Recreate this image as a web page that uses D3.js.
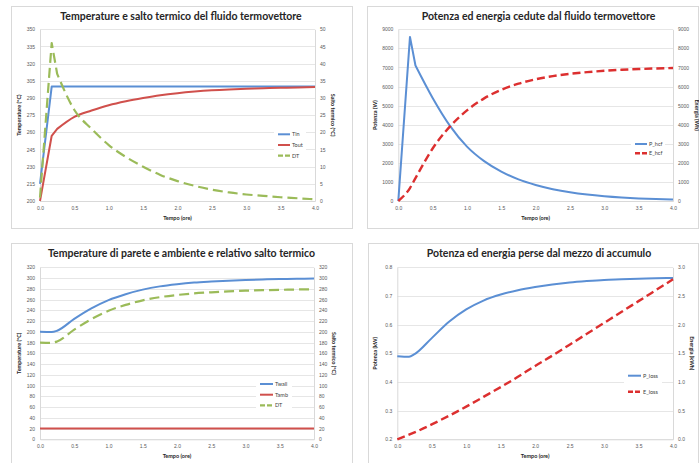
<!DOCTYPE html>
<html>
<head>
<meta charset="utf-8">
<script src="https://cdn.jsdelivr.net/npm/d3@7"></script>
<style>
  body { margin: 0; background: #fff; }
  svg { display: block; font-family: Lato, "Open Sans", sans-serif; }
  .grid line { stroke: #e0e0e0; stroke-width: 0.8; }
  .tick text { fill: #595959; font-size: 5px; }
</style>
</head>
<body>
<svg id="chart" width="699" height="463"></svg>
<script>
// tempo (ore) comune a tutti i grafici
const tempo = [0, 0.17, 0.25, 0.5, 0.75, 1.0, 1.25, 1.5, 1.75, 2.0, 2.25, 2.5, 2.75, 3.0, 3.25, 3.5, 3.75, 4.0];
const tempoTicks = [0, 0.5, 1, 1.5, 2, 2.5, 3, 3.5, 4];

// grafico 1 - fluido termovettore
const Tin  = [215, 300, 300, 300, 300, 300, 300, 300, 300, 300, 300, 300, 300, 300, 300, 300, 300, 300];
const Tout = [200, 257, 263, 273.5, 279, 283.7, 287.2, 290, 292.4, 294.2, 295.6, 296.7, 297.5, 298.1, 298.5, 298.9, 299.2, 299.5];
const DT1  = [1, 46, 37, 26.5, 21, 16.3, 12.8, 10, 7.6, 5.8, 4.4, 3.3, 2.5, 1.9, 1.5, 1.1, 0.8, 0.5];

// grafico 2 - potenza ed energia cedute
const P_hcf = [0, 8600, 7100, 5400, 3950, 2850, 2090, 1540, 1130, 840, 620, 455, 335, 248, 183, 135, 100, 74];
const E_hcf = [0, 680, 1200, 2750, 3900, 4750, 5380, 5830, 6150, 6380, 6545, 6665, 6755, 6825, 6877, 6917, 6947, 6970];

// grafico 3 - parete e ambiente
const Twall = [200, 199.5, 202, 224, 243.5, 259, 270, 278.5, 284.5, 288.5, 291.5, 293.5, 295.2, 296.5, 297.4, 298.1, 298.7, 299.2];
const Tamb  = [20, 20, 20, 20, 20, 20, 20, 20, 20, 20, 20, 20, 20, 20, 20, 20, 20, 20];
const DT3   = [180, 179.5, 182, 204, 223.5, 239, 250, 258.5, 264.5, 268.5, 271.5, 273.5, 275.2, 276.5, 277.4, 278.1, 278.7, 279.2];

// grafico 4 - perdite del mezzo di accumulo
const P_loss = [0.49, 0.488, 0.497, 0.553, 0.61, 0.653, 0.684, 0.705, 0.72, 0.731, 0.74, 0.747, 0.752, 0.756, 0.758, 0.76, 0.762, 0.763];
const E_loss = [0, 0.08, 0.12, 0.26, 0.41, 0.57, 0.74, 0.91, 1.09, 1.28, 1.46, 1.65, 1.84, 2.03, 2.22, 2.41, 2.6, 2.79];

const BLUE = '#5b8fd4', RED = '#d0504c', RED2 = '#dc2f2f', GREEN = '#9bbb59';

const svg = d3.select('#chart');

function drawPanel(cfg) {
    const g = svg.append('g');
    const { box, plot } = cfg;

    g.append('rect').attr('x', box[0] + 0.5).attr('y', box[1] + 0.5)
        .attr('width', box[2] - box[0]).attr('height', box[3] - box[1])
        .attr('fill', '#fff').attr('stroke', '#d9d9d9');

    const x = d3.scaleLinear().domain([0, 4]).range([plot[0], plot[2]]);
    const yL = d3.scaleLinear().domain(cfg.left.domain).range([plot[3], plot[1]]);
    const yR = d3.scaleLinear().domain(cfg.right.domain).range([plot[3], plot[1]]);

    // griglia
    g.append('g').attr('class', 'grid')
        .selectAll('line').data(cfg.left.ticks).join('line')
        .attr('x1', plot[0]).attr('x2', plot[2])
        .attr('y1', d => Math.round(yL(d)) + 0.5).attr('y2', d => Math.round(yL(d)) + 0.5);

    const axL = g.append('g').attr('transform', `translate(${plot[0]},0)`)
        .call(d3.axisLeft(yL).tickValues(cfg.left.ticks).tickFormat(cfg.left.fmt).tickSize(0).tickPadding(5));
    const axR = g.append('g').attr('transform', `translate(${plot[2]},0)`)
        .call(d3.axisRight(yR).tickValues(cfg.right.ticks).tickFormat(cfg.right.fmt).tickSize(0).tickPadding(5));
    const axB = g.append('g').attr('transform', `translate(0,${plot[3]})`)
        .call(d3.axisBottom(x).tickValues(tempoTicks).tickFormat(d3.format('.1f')).tickSize(0).tickPadding(5));
    [axL, axR, axB].forEach(a => a.select('.domain').attr('stroke', '#d9d9d9'));

    // titoli
    g.append('text').attr('x', cfg.titleX).attr('y', box[1] + 13.5)
        .attr('text-anchor', 'middle').style('font-size', '10.5px').style('font-weight', 'bold')
        .attr('fill', '#262626').text(cfg.title);
    g.append('text').attr('x', (plot[0] + plot[2]) / 2).attr('y', plot[3] + 19)
        .attr('text-anchor', 'middle').style('font-size', '5.5px').style('font-weight', 'bold')
        .attr('fill', '#262626').text('Tempo (ore)');
    const cy = (plot[1] + plot[3]) / 2;
    g.append('text').attr('transform', `translate(${cfg.left.titleX},${cy}) rotate(-90)`)
        .attr('text-anchor', 'middle').style('font-size', '5.5px').style('font-weight', 'bold')
        .attr('fill', '#262626').text(cfg.left.title);
    g.append('text').attr('transform', `translate(${cfg.right.titleX},${cy}) rotate(90)`)
        .attr('text-anchor', 'middle').style('font-size', '5.5px').style('font-weight', 'bold')
        .attr('fill', '#262626').text(cfg.right.title);

    // serie: tratto iniziale rettilineo fino al picco, poi curva
    cfg.series.forEach(s => {
        const y = s.axis === 'right' ? yR : yL;
        const pts = s.values.map((v, i) => [x(tempo[i]), y(v)]);
        const k = s.split || 0;
        let d = '';
        if (k > 0) d = d3.line().curve(d3.curveLinear)(pts.slice(0, k + 1));
        const rest = d3.line().curve(d3.curveMonotoneX)(pts.slice(k));
        d += k > 0 ? 'L' + rest.slice(1) : rest;
        g.append('path').attr('d', d)
            .attr('fill', 'none').attr('stroke', s.color).attr('stroke-width', s.width || 2)
            .attr('stroke-linejoin', 'round')
            .attr('stroke-dasharray', s.dash || null);
    });

    // legenda
    const lg = cfg.legend;
    g.append('rect').attr('x', lg.x - 4).attr('y', lg.y - 6)
        .attr('width', lg.w).attr('height', lg.dy * (cfg.series.length - 1) + 12).attr('fill', '#fff');
    cfg.series.forEach((s, i) => {
        const yy = lg.y + i * lg.dy;
        g.append('line').attr('x1', lg.x).attr('x2', lg.x + lg.len).attr('y1', yy).attr('y2', yy)
            .attr('stroke', s.color).attr('stroke-width', s.width || 2)
            .attr('stroke-dasharray', s.dash ? '5,2' : null);
        g.append('text').attr('x', lg.x + lg.len + 2).attr('y', yy + 2)
            .style('font-size', '5.5px').attr('fill', '#404040').text(s.name);
    });
}

drawPanel({
    box: [11, 6, 352, 228], plot: [40, 29.3, 315, 201],
    title: 'Temperature e salto termico del fluido termovettore', titleX: 181,
    left: { domain: [200, 350], ticks: d3.range(200, 351, 15), fmt: d3.format('d'), title: 'Temperature (°C)', titleX: 21 },
    right: { domain: [0, 50], ticks: d3.range(0, 51, 5), fmt: d3.format('d'), title: 'Salto termico (°C)', titleX: 331 },
    series: [
        { name: 'Tin', values: Tin, color: BLUE, split: 1 },
        { name: 'Tout', values: Tout, color: RED, split: 2 },
        { name: 'DT', values: DT1, color: GREEN, axis: 'right', dash: '10,5', width: 2.2, split: 2 }
    ],
    legend: { x: 278, y: 134.3, dy: 10.7, len: 12, w: 32 }
});

drawPanel({
    box: [367, 6, 698, 228], plot: [398.3, 29.3, 673, 201],
    title: 'Potenza ed energia cedute dal fluido termovettore', titleX: 538.5,
    left: { domain: [0, 9000], ticks: d3.range(0, 9001, 1000), fmt: d3.format('d'), title: 'Potenza (W)', titleX: 377 },
    right: { domain: [0, 9000], ticks: d3.range(0, 9001, 1000), fmt: d3.format('d'), title: 'Energia (Wh)', titleX: 695 },
    series: [
        { name: 'P_hcf', values: P_hcf, color: BLUE, split: 2 },
        { name: 'E_hcf', values: E_hcf, color: RED2, axis: 'right', dash: '8,4', width: 2.4 }
    ],
    legend: { x: 635, y: 144, dy: 9.3, len: 12, w: 34 }
});

drawPanel({
    box: [11, 243, 352, 470], plot: [40, 267.3, 314, 439.3],
    title: 'Temperature di parete e ambiente e relativo salto termico', titleX: 181.5,
    left: { domain: [0, 320], ticks: d3.range(0, 321, 20), fmt: d3.format('d'), title: 'Temperature (°C)', titleX: 21 },
    right: { domain: [0, 320], ticks: d3.range(0, 321, 20), fmt: d3.format('d'), title: 'Salto termico (°C)', titleX: 332 },
    series: [
        { name: 'Twall', values: Twall, color: BLUE },
        { name: 'Tamb', values: Tamb, color: RED },
        { name: 'DT', values: DT3, color: GREEN, axis: 'right', dash: '10,5', width: 2.2 }
    ],
    legend: { x: 260, y: 384, dy: 10.7, len: 13, w: 36 }
});

drawPanel({
    box: [368, 243, 698, 470], plot: [397.3, 267.3, 673, 439.3],
    title: 'Potenza ed energia perse dal mezzo di accumulo', titleX: 539,
    left: { domain: [0.2, 0.8], ticks: d3.range(2, 9).map(d => d / 10), fmt: d3.format('.1f'), title: 'Potenza (kW)', titleX: 377 },
    right: { domain: [0, 3], ticks: d3.range(0, 7).map(d => d / 2), fmt: d3.format('.1f'), title: 'Energia (kWh)', titleX: 690 },
    series: [
        { name: 'P_loss', values: P_loss, color: BLUE },
        { name: 'E_loss', values: E_loss, color: RED2, axis: 'right', dash: '8,4', width: 2.4 }
    ],
    legend: { x: 628, y: 375.7, dy: 16, len: 13, w: 38 }
});
</script>
</body>
</html>
